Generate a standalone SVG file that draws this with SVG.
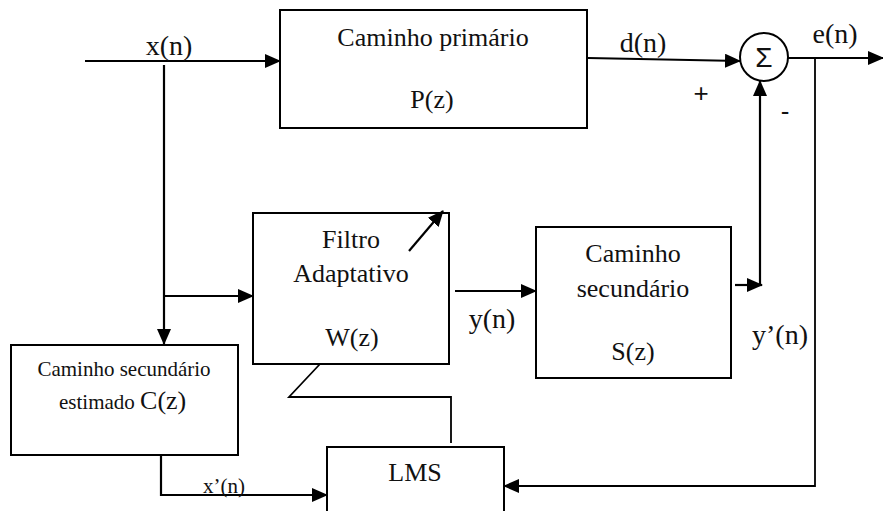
<svg xmlns="http://www.w3.org/2000/svg" width="883" height="511" viewBox="0 0 883 511">
  <style>
    .box { fill: #fff; stroke: #000; stroke-width: 2; }
    .wire { fill: none; stroke: #000; stroke-width: 2.2; }
    .thin { fill: none; stroke: #000; stroke-width: 1.8; }
    .t { font-family: 'Liberation Serif', 'DejaVu Serif', serif; font-size: 26px; fill: #111; }
    .lbl { font-family: 'Liberation Serif', 'DejaVu Serif', serif; font-size: 28px; fill: #111; }
    .small { font-family: 'Liberation Serif', 'DejaVu Serif', serif; font-size: 21px; fill: #111; }
    .sans { font-family: 'Liberation Sans', Arial, sans-serif; fill: #111; }
    .mid { text-anchor: middle; }
  </style>
  <defs>
    <marker id="arrow" markerUnits="userSpaceOnUse" markerWidth="16" markerHeight="14" refX="15" refY="7" orient="auto">
      <path d="M0,0 L16,7 L0,14 Z" fill="#000"/>
    </marker>
  </defs>

  <!-- Primary path P(z) -->
  <g id="primary">
    <rect class="box" x="280" y="10" width="307" height="118"/>
    <text class="t mid" x="433" y="46">Caminho primário</text>
    <text class="t mid" x="432" y="108">P(z)</text>
  </g>

  <!-- Summing junction -->
  <g id="sum">
    <circle cx="764" cy="57" r="24" fill="#fff" stroke="#000" stroke-width="2"/>
    <text class="sans mid" x="764" y="67" font-size="28">Σ</text>
    <text class="sans mid" x="701" y="102" font-size="26">+</text>
    <text class="sans mid" x="785" y="120" font-size="26">-</text>
  </g>

  <!-- Adaptive filter W(z) -->
  <g id="filter">
    <rect class="box" x="253" y="213" width="196" height="151"/>
    <text class="t mid" x="351" y="248">Filtro</text>
    <text class="t mid" x="351" y="282">Adaptativo</text>
    <text class="t mid" x="352" y="346">W(z)</text>
    <line class="wire" x1="409" y1="251" x2="443" y2="211" marker-end="url(#arrow)"/>
  </g>

  <!-- Secondary path S(z) -->
  <g id="secondary">
    <rect class="box" x="536" y="227" width="195" height="151"/>
    <text class="t mid" x="633" y="262">Caminho</text>
    <text class="t mid" x="633" y="297">secundário</text>
    <text class="t mid" x="633" y="360">S(z)</text>
  </g>

  <!-- Estimated secondary path C(z) -->
  <g id="estimate">
    <rect class="box" x="11" y="345" width="227" height="110"/>
    <text class="small mid" x="124" y="376">Caminho secundário</text>
    <text class="small" x="59" y="409">estimado <tspan font-size="26">C(z)</tspan></text>
  </g>

  <!-- LMS update -->
  <g id="lms">
    <rect class="box" x="327" y="447" width="177" height="70"/>
    <text class="t mid" x="415" y="481">LMS</text>
  </g>

  <!-- Signal connections -->
  <g id="connectors">
    <line class="wire" x1="85" y1="61" x2="280" y2="61" marker-end="url(#arrow)"/>
    <line class="wire" x1="164" y1="65" x2="164" y2="344" marker-end="url(#arrow)"/>
    <line class="wire" x1="164" y1="296" x2="253" y2="296" marker-end="url(#arrow)"/>
    <line class="wire" x1="588" y1="58" x2="740" y2="61" marker-end="url(#arrow)"/>
    <line class="wire" x1="788" y1="58" x2="883" y2="58" marker-end="url(#arrow)"/>
    <line class="wire" x1="455" y1="291" x2="536" y2="291" marker-end="url(#arrow)"/>
    <line class="wire" x1="735" y1="285" x2="762" y2="285" marker-end="url(#arrow)"/>
    <line class="wire" x1="760" y1="285" x2="760" y2="81" marker-end="url(#arrow)"/>
    <polyline class="thin" points="815,58 815,486 504,486" marker-end="url(#arrow)"/>
    <polyline class="wire" points="161,455 161,495 327,495" marker-end="url(#arrow)"/>
    <polyline class="thin" points="320,364 289,397 451,397 451,443"/>
  </g>

  <!-- Signal labels -->
  <g id="labels">
    <text class="lbl mid" x="169" y="55">x(n)</text>
    <text class="lbl mid" x="643" y="52">d(n)</text>
    <text class="lbl mid" x="835" y="43">e(n)</text>
    <text class="lbl mid" x="492" y="328">y(n)</text>
    <text class="lbl" x="752" y="344">y’(n)</text>
    <text class="small" x="203" y="493" font-size="24">x’(n)</text>
  </g>
</svg>
